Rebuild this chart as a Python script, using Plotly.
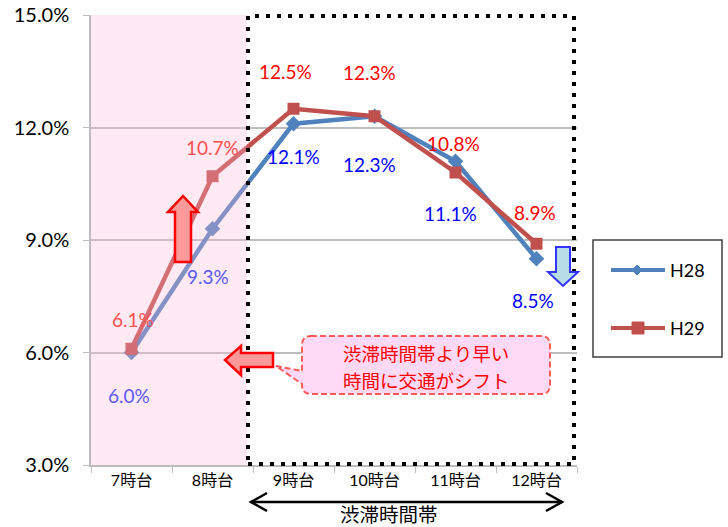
import plotly.graph_objects as go

# ---- data ----
hours = ["7時台", "8時台", "9時台", "10時台", "11時台", "12時台"]
h28 = [6.0, 9.3, 12.1, 12.3, 11.1, 8.5]
h29 = [6.1, 10.7, 12.5, 12.3, 10.8, 8.9]
series_names = ["H28", "H29"]
y_ticks = [3.0, 6.0, 9.0, 12.0, 15.0]
callout_lines = ["渋滞時間帯より早い", "時間に交通がシフト"]
band_label = "渋滞時間帯"

# ---- layout geometry (pixels) ----
W, H = 728, 527
L, R, T, B = 91, 577, 15, 465
PW, PH = R - L, B - T


def px(x):
    return (x - L) / PW


def py(y):
    return (B - y) / PH


def path(points, close=True):
    s = "M " + " L ".join(f"{px(x):.5f},{py(y):.5f}" for x, y in points)
    return s + (" Z" if close else "")


BLUE = "#4F81BD"
RED = "#C0504D"
FONT = "Lato, Noto Sans CJK JP"
JP = "Noto Sans CJK JP"

fig = go.Figure()
fig.add_trace(go.Scatter(x=hours, y=h28, mode="lines+markers", name=series_names[0],
                         line=dict(color=BLUE, width=4.5),
                         marker=dict(symbol="diamond", size=12, color=BLUE),
                         showlegend=False))
fig.add_trace(go.Scatter(x=hours, y=h29, mode="lines+markers", name=series_names[1],
                         line=dict(color=RED, width=4.5),
                         marker=dict(symbol="square", size=12, color=RED),
                         showlegend=False))

annotations = []
# data labels (offsets in px)
h28_off = [(-3, -43), (-5, -48), (0, -33), (-5, -48), (-5, -52), (-4, -42)]
h29_off = [(1, 29), (0, 29), (-8, 37), (-5, 44), (-2, 29), (-2, 31)]
in_band = [True, True, False, False, False, False]
for i, c in enumerate(hours):
    dx, dy = h28_off[i]
    annotations.append(dict(x=c, y=h28[i], xref="x", yref="y", text=f"{h28[i]:.1f}%",
                            showarrow=False, xshift=dx, yshift=dy,
                            font=dict(family=FONT, size=19,
                                      color="#5B5BF5" if in_band[i] else "#0000FF")))
    dx, dy = h29_off[i]
    annotations.append(dict(x=c, y=h29[i], xref="x", yref="y", text=f"{h29[i]:.1f}%",
                            showarrow=False, xshift=dx, yshift=dy,
                            font=dict(family=FONT, size=19,
                                      color="#FF5050" if in_band[i] else "#FF0000")))

# callout text (one annotation per line)
for line_text, ly in zip(callout_lines, [353, 380]):
    annotations.append(dict(x=px(426), y=py(ly), xref="paper", yref="paper",
                            text=line_text, showarrow=False,
                            font=dict(family=JP, size=18.5, color="#FF0000"),
                            xanchor="center", yanchor="middle"))
# band label
annotations.append(dict(x=px(389), y=py(513), xref="paper", yref="paper",
                        text=band_label, showarrow=False,
                        font=dict(family=JP, size=19.5, color="#000000"),
                        xanchor="center", yanchor="middle"))
# legend texts
annotations.append(dict(x=px(668), y=py(270), xref="paper", yref="paper", text=series_names[0],
                        showarrow=False, xanchor="left", yanchor="middle",
                        font=dict(family=FONT, size=18, color="#000000")))
annotations.append(dict(x=px(668), y=py(328), xref="paper", yref="paper", text=series_names[1],
                        showarrow=False, xanchor="left", yanchor="middle",
                        font=dict(family=FONT, size=18, color="#000000")))

shapes = []
# pink band over 7-8
shapes.append(dict(type="rect", xref="paper", yref="paper", x0=px(L), x1=px(247), y0=0, y1=1,
                   fillcolor="rgb(255,182,213)", opacity=0.3, line=dict(width=0), layer="above"))
# dotted congestion box
shapes.append(dict(type="rect", xref="paper", yref="paper", x0=px(248), x1=px(574),
                   y0=py(464), y1=py(16), line=dict(color="#000000", width=4, dash="4px,7px"),
                   fillcolor="rgba(0,0,0,0)", layer="above"))
# up arrow (red)
shapes.append(dict(type="path", xref="paper", yref="paper",
                   path=path([(175, 262), (175, 212), (168, 212), (183, 196), (198, 212), (191, 212), (191, 262)]),
                   fillcolor="#FF9A9A", line=dict(color="#FF0000", width=2.5), layer="above"))
# left arrow (red)
shapes.append(dict(type="path", xref="paper", yref="paper",
                   path=path([(273, 353), (241, 353), (241, 346), (225, 360), (241, 375), (241, 367), (273, 367)]),
                   fillcolor="#FF9A9A", line=dict(color="#FF0000", width=2.5), layer="above"))
# down arrow (blue)
shapes.append(dict(type="path", xref="paper", yref="paper",
                   path=path([(556, 247), (570, 247), (570, 272), (578, 272), (563, 286), (548, 272), (556, 272)]),
                   fillcolor="#B7DEE8", line=dict(color="#3333FF", width=2), layer="above"))
# callout bubble
x0, x1, y0, y1, r = 302, 550, 336, 394, 9
cp = (f"M {px(x0 + r):.5f},{py(y0):.5f} L {px(x1 - r):.5f},{py(y0):.5f} "
      f"Q {px(x1):.5f},{py(y0):.5f} {px(x1):.5f},{py(y0 + r):.5f} "
      f"L {px(x1):.5f},{py(y1 - r):.5f} Q {px(x1):.5f},{py(y1):.5f} {px(x1 - r):.5f},{py(y1):.5f} "
      f"L {px(x0 + r):.5f},{py(y1):.5f} Q {px(x0):.5f},{py(y1):.5f} {px(x0):.5f},{py(y1 - r):.5f} "
      f"L {px(x0):.5f},{py(384):.5f} L {px(276):.5f},{py(366):.5f} L {px(x0):.5f},{py(371):.5f} "
      f"L {px(x0):.5f},{py(y0 + r):.5f} Q {px(x0):.5f},{py(y0):.5f} {px(x0 + r):.5f},{py(y0):.5f} Z")
shapes.append(dict(type="path", xref="paper", yref="paper", path=cp,
                   fillcolor="#FFD9F5", line=dict(color="#FF5A5A", width=2, dash="6px,3px"), layer="above"))
# bottom double arrow
shapes.append(dict(type="path", xref="paper", yref="paper",
                   path=path([(251, 502), (562, 502)], close=False),
                   line=dict(color="#000000", width=2.5), layer="above"))
shapes.append(dict(type="path", xref="paper", yref="paper",
                   path=path([(267, 493), (251, 502), (267, 511)], close=False),
                   line=dict(color="#000000", width=2.5), layer="above"))
shapes.append(dict(type="path", xref="paper", yref="paper",
                   path=path([(546, 493), (562, 502), (546, 511)], close=False),
                   line=dict(color="#000000", width=2.5), layer="above"))
# legend box
shapes.append(dict(type="rect", xref="paper", yref="paper", x0=px(593), x1=px(722),
                   y0=py(357), y1=py(240), line=dict(color="#404040", width=1.5),
                   fillcolor="rgba(0,0,0,0)", layer="above"))
shapes.append(dict(type="path", xref="paper", yref="paper",
                   path=path([(611, 270), (665, 270)], close=False),
                   line=dict(color=BLUE, width=4), layer="above"))
shapes.append(dict(type="path", xref="paper", yref="paper",
                   path=path([(637, 265), (642, 270), (637, 275), (632, 270)]),
                   fillcolor=BLUE, line=dict(color=BLUE, width=1), layer="above"))
shapes.append(dict(type="path", xref="paper", yref="paper",
                   path=path([(611, 328), (665, 328)], close=False),
                   line=dict(color=RED, width=4), layer="above"))
shapes.append(dict(type="rect", xref="paper", yref="paper", x0=px(632), x1=px(644),
                   y0=py(334), y1=py(322), fillcolor=RED, line=dict(color=RED, width=1),
                   layer="above"))

fig.update_layout(
    width=W, height=H,
    margin=dict(l=L, r=W - R, t=T, b=H - B, pad=0, autoexpand=False),
    paper_bgcolor="white", plot_bgcolor="white",
    showlegend=False,
    shapes=shapes, annotations=annotations,
    xaxis=dict(type="category", categoryorder="array", categoryarray=hours,
               range=[-0.5, 5.5], showgrid=False, showline=True, linecolor="#BDBDBD",
               linewidth=1.5, ticks="outside", tickson="boundaries", ticklen=6,
               tickcolor="#BDBDBD", tickfont=dict(family=FONT, size=16, color="#000000"),
               zeroline=False, fixedrange=True, automargin=False),
    yaxis=dict(range=[3, 15], tickvals=y_ticks, ticktext=[f"{v:.1f}%" for v in y_ticks],
               showgrid=True, gridcolor="#BDBDBD", gridwidth=1.5,
               showline=True, linecolor="#BDBDBD", linewidth=1.5,
               ticks="outside", ticklen=6, tickcolor="#BDBDBD", ticklabelstandoff=10,
               tickfont=dict(family=FONT, size=20, color="#000000"),
               zeroline=False, fixedrange=True, automargin=False),
)

fig.write_html("out.html", config={"displayModeBar": False},
               post_script="document.body.style.margin='0';document.body.style.overflow='hidden';")
